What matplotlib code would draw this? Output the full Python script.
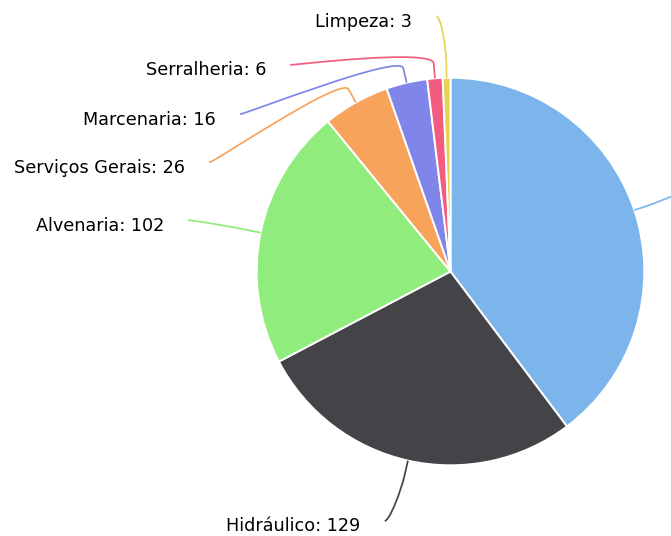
import numpy as np
import matplotlib
matplotlib.use('Agg')
import matplotlib.pyplot as plt
from matplotlib.path import Path
from matplotlib.patches import PathPatch

# Data (first slice's label lies outside the visible canvas)
categories = ['Elétrica', 'Hidráulico', 'Alvenaria', 'Serviços Gerais', 'Marcenaria', 'Serralheria', 'Limpeza']
values = [186, 129, 102, 26, 16, 6, 3]
colors = ['#7cb5ec', '#434348', '#90ed7d', '#f7a35c', '#8085e9', '#f15c80', '#e4d354']
show_label = [False, True, True, True, True, True, True]

# Layout (pixel coordinates, y down)
cx, cy, r = 450.5, 271.5, 193.8
# right edge / baseline of each label text
label_xy = [(724, 196.5), (360.7, 531.4), (164.3, 230.7), (185, 173),
            (216, 124.7), (266.3, 75.4), (412.3, 27)]

fig = plt.figure(figsize=(6.71, 5.36), dpi=100)
ax = fig.add_axes([0, 0, 1, 1])

ax.pie(values, colors=colors, center=(cx, cy), radius=r, startangle=-90,
       counterclock=True, wedgeprops=dict(edgecolor='white', linewidth=1.4))

ax.set_xlim(0, 671)
ax.set_ylim(536, 0)
ax.set_aspect('equal')
ax.axis('off')

total = sum(values)
ends = np.cumsum(values) / total * 360
starts = ends - np.array(values) / total * 360
mids = np.deg2rad((starts + ends) / 2)  # clockwise from top

for i, name in enumerate(categories):
    a = mids[i]
    tx, ty = cx + r * np.sin(a), cy - r * np.cos(a)
    bx, by = cx + (r + 15) * np.sin(a), cy - (r + 15) * np.cos(a)
    lx, ly = label_xy[i]
    if show_label[i]:
        ax.text(lx, ly, f'{name}: {values[i]}', ha='right', va='baseline',
                fontsize=12.67, color='#000000', family='DejaVu Sans')
        px, py = lx + 24, ly - 10.5
        dx = 5
    else:
        px, py = lx - 24, ly - 10.5
        dx = -5
    verts = [(px, py), (px + dx, py), (2 * bx - tx, 2 * by - ty), (bx, by), (tx, ty)]
    codes = [Path.MOVETO, Path.CURVE4, Path.CURVE4, Path.CURVE4, Path.LINETO]
    ax.add_patch(PathPatch(Path(verts, codes), facecolor='none',
                           edgecolor=colors[i], linewidth=1.25, clip_on=False))

fig.savefig('out.png', dpi=100)
